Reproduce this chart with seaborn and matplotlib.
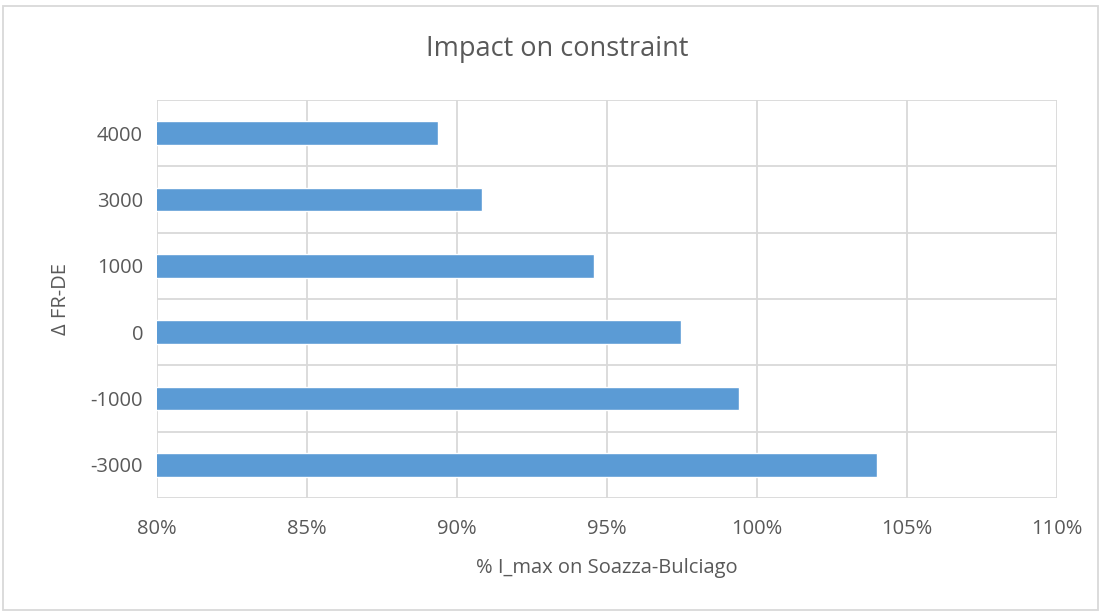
import numpy as np
import matplotlib.pyplot as plt
import seaborn as sns
import pandas as pd
from matplotlib.ticker import FuncFormatter, FixedLocator
from matplotlib.patches import Rectangle

# values (percent of I_max)
delta_fr_de = ["4000", "3000", "1000", "0", "-1000", "-3000"]
pct_imax = [89.37, 90.82, 94.57, 97.47, 99.41, 103.99]
x_ticks = [80, 85, 90, 95, 100, 105, 110]

df = pd.DataFrame({"delta": delta_fr_de, "pct": pct_imax})

sns.set_theme(style="white")
plt.rcParams["font.family"] = ["Open Sans", "DejaVu Sans"]
text_col = "#595959"
grid_col = "#D9D9D9"

fig = plt.figure(figsize=(11.02, 6.13), dpi=100)
ax = fig.add_axes([157 / 1102, 1 - 498 / 613, 900 / 1102, 398 / 613])

sns.barplot(data=df, x="pct", y="delta", order=delta_fr_de, orient="h",
            color="#5B9BD5", saturation=1, width=0.357, ax=ax)

ax.set_xlim(80, 110)
ax.set_ylim(5.5, -0.5)
ax.xaxis.set_major_locator(FixedLocator(x_ticks))
ax.xaxis.set_major_formatter(FuncFormatter(lambda v, p: f"{v:.0f}%"))
ax.yaxis.set_minor_locator(FixedLocator(np.arange(-0.5, 6, 1)))
ax.grid(True, axis="x", which="major", color=grid_col, lw=1.3)
ax.grid(True, axis="y", which="minor", color=grid_col, lw=1.3)
ax.set_axisbelow(True)
for s in ax.spines.values():
    s.set_visible(False)
ax.tick_params(axis="both", which="both", length=0, labelsize=14.5,
               labelcolor=text_col)
ax.tick_params(axis="x", pad=15)
ax.tick_params(axis="y", pad=10)

ax.set_xlabel("% I_max on Soazza-Bulciago", fontsize=14.5, color=text_col,
              labelpad=14)
ax.set_ylabel("Δ FR-DE", fontsize=14.5, color=text_col, labelpad=14)
fig.text(557 / 1102, 1 - 49 / 613, "Impact on constraint", ha="center",
         va="center", fontsize=19.5, color=text_col)

# chart border
fig.patches.append(Rectangle((3 / 1102, 3 / 613), 1095 / 1102, 604 / 613,
                             transform=fig.transFigure, fill=False,
                             edgecolor=grid_col, lw=1.3))

plt.savefig("out.png", dpi=100)
